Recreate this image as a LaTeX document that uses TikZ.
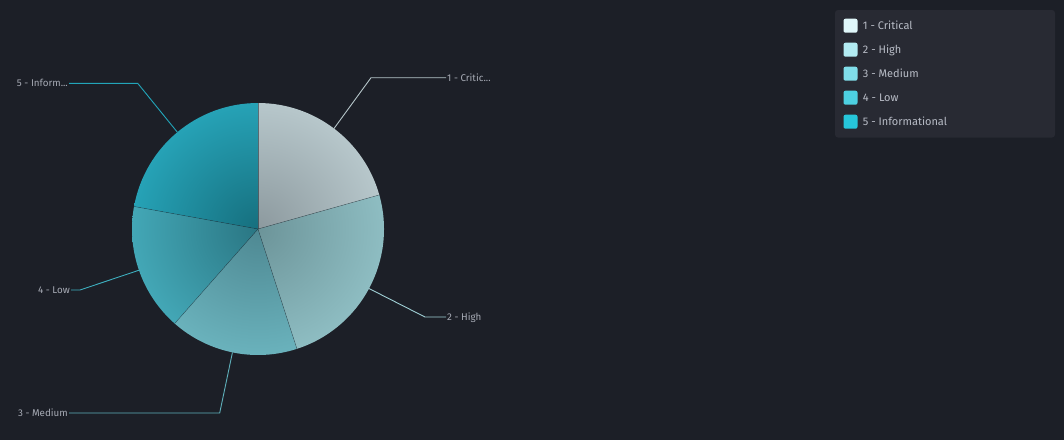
\documentclass[tikz,border=0pt]{standalone}
\usepackage{fontspec}
\setmainfont{Fira Sans}
\usetikzlibrary{positioning,calc}
\definecolor{bgcol}{HTML}{1C1F27}
\definecolor{legbg}{HTML}{282A33}
\definecolor{txtcol}{HTML}{A7ABB5}
\definecolor{legtxt}{HTML}{B8BCC6}
\definecolor{sev1}{HTML}{E0F7FA}
\definecolor{sev2}{HTML}{B2EBF2}
\definecolor{sev3}{HTML}{80DEEA}
\definecolor{sev4}{HTML}{4DD0E1}
\definecolor{sev5}{HTML}{26C6DA}
\definecolor{line1}{HTML}{B4C4C8}
\definecolor{line2}{HTML}{9FCFD5}
\definecolor{line3}{HTML}{5FB0BB}
\definecolor{line4}{HTML}{3EB0C0}
\definecolor{line5}{HTML}{22A5B9}
\definecolor{in1}{HTML}{8C999E}
\definecolor{out1}{HTML}{B7C7CB}
\definecolor{in2}{HTML}{6C9499}
\definecolor{out2}{HTML}{8EBDC2}
\definecolor{in3}{HTML}{4E8892}
\definecolor{out3}{HTML}{6AB2BC}
\definecolor{in4}{HTML}{2A7683}
\definecolor{out4}{HTML}{43A7B6}
\definecolor{in5}{HTML}{166F7E}
\definecolor{out5}{HTML}{26A2B6}
\tikzset{
  swatch/.style={rectangle, rounded corners=2pt, minimum size=14pt, inner sep=0pt},
  legtext/.style={text=legtxt, font=\fontsize{11}{13}\selectfont, inner sep=0pt, anchor=west, text height=7.6pt, text depth=0pt},
  pielabel/.style={text=txtcol, font=\fontsize{9.8}{11}\selectfont, inner sep=1pt, text height=6.8pt, text depth=0pt},
  leader/.style={line width=0.9pt}
}
\begin{document}
\begin{tikzpicture}[x=1pt, y=-1pt]
        \def\R{126}
        \fill[bgcol] (0,0) rectangle (1064,440);
        \useasboundingbox (0,0) rectangle (1064,440);
        \coordinate (c) at (258,229);

        \begin{scope}
          \clip (c) -- +(-90:\R) arc[start angle=-90, end angle=-15.7, radius=\R] -- cycle;
          \shade[inner color=in1, outer color=out1] (c) circle (\R);
        \end{scope}
        \begin{scope}
          \clip (c) -- +(-15.7:\R) arc[start angle=-15.7, end angle=72, radius=\R] -- cycle;
          \shade[inner color=in2, outer color=out2] (c) circle (\R);
        \end{scope}
        \begin{scope}
          \clip (c) -- +(72:\R) arc[start angle=72, end angle=131.4, radius=\R] -- cycle;
          \shade[inner color=in3, outer color=out3] (c) circle (\R);
        \end{scope}
        \begin{scope}
          \clip (c) -- +(131.4:\R) arc[start angle=131.4, end angle=190.3, radius=\R] -- cycle;
          \shade[inner color=in4, outer color=out4] (c) circle (\R);
        \end{scope}
        \begin{scope}
          \clip (c) -- +(190.3:\R) arc[start angle=190.3, end angle=270, radius=\R] -- cycle;
          \shade[inner color=in5, outer color=out5] (c) circle (\R);
        \end{scope}
        \foreach \a in {-90,-15.7,72,131.4,190.3}
          \draw[bgcol, line width=0.4pt, opacity=0.5] (c) -- +(\a:\R);

        \coordinate (e1) at ($(c)+(-52.9:\R)$);
        \coordinate (e2) at ($(c)+(28.2:\R)$);
        \coordinate (e3) at ($(c)+(101.7:\R)$);
        \coordinate (e4) at ($(c)+(160.9:\R)$);
        \coordinate (e5) at ($(c)+(230.2:\R)$);
        \coordinate (b1) at (371,77.7);
        \coordinate (b2) at (425,317);
        \coordinate (b3) at (219.7,413);
        \coordinate (b4) at (80,290);
        \coordinate (b5) at (137.7,83.3);

        \node(lab1) [pielabel, anchor=west] at (446,77.7) {1 - Critic...};
        \node(lab2) [pielabel, anchor=west] at (446,317) {2 - High};
        \node(lab3) [pielabel, anchor=east] at (69,413) {3 - Medium};
        \node(lab4) [pielabel, anchor=east] at (71,290) {4 - Low};
        \node(lab5) [pielabel, anchor=east] at (69,83.3) {5 - Inform...};

        \draw[leader, line1] (e1) -- (b1) -- (lab1.west);
        \draw[leader, line2] (e2) -- (b2) -- (lab2.west);
        \draw[leader, line3] (e3) -- (b3) -- (lab3.east);
        \draw[leader, line4] (e4) -- (b4) -- (lab4.east);
        \draw[leader, line5] (e5) -- (b5) -- (lab5.east);

        \fill[legbg, rounded corners=3pt] (835,10) rectangle (1055,137.5);
        \node(sw1) [swatch, fill=sev1] at (850.5,25.7) {};
        \node(sw2) [swatch, fill=sev2] at (850.5,49.7) {};
        \node(sw3) [swatch, fill=sev3] at (850.5,73.7) {};
        \node(sw4) [swatch, fill=sev4] at (850.5,97.7) {};
        \node(sw5) [swatch, fill=sev5] at (850.5,121.7) {};
        \node(leg1) [legtext, right=5pt of sw1] {1 - Critical};
        \node(leg2) [legtext, right=5pt of sw2] {2 - High};
        \node(leg3) [legtext, right=5pt of sw3] {3 - Medium};
        \node(leg4) [legtext, right=5pt of sw4] {4 - Low};
        \node(leg5) [legtext, right=5pt of sw5] {5 - Informational};
    \end{tikzpicture}
\end{document}
